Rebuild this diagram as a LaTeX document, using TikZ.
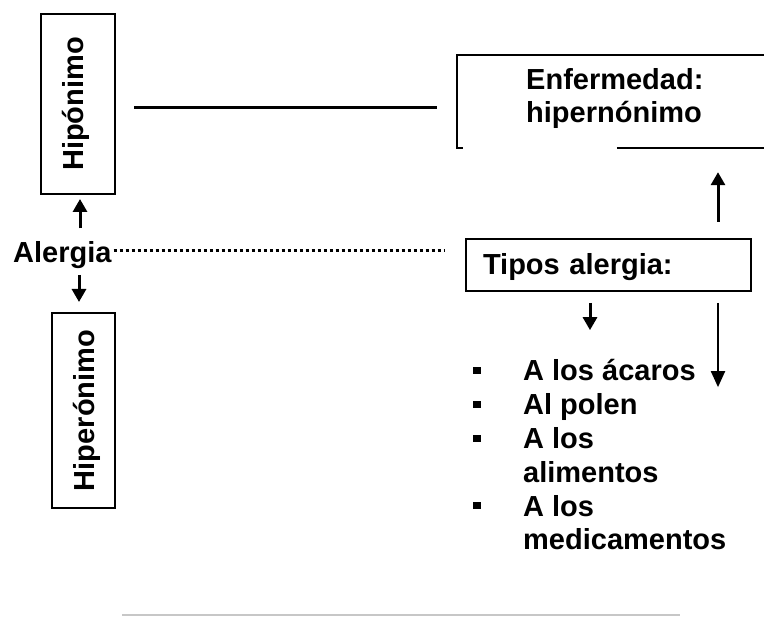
\documentclass[tikz,border=0pt]{standalone}
\usepackage{fontspec}
\setmainfont{Liberation Sans}
\usetikzlibrary{arrows.meta,calc}
\newcommand{\bala}{\rule[7pt]{8pt}{7pt}}

\begin{document}
\begin{tikzpicture}[x=1pt, y=-1pt,
 	font=\fontsize{29}{34}\selectfont\bfseries,
 	texto/.style={inner sep=0pt, text height=22.5pt, text depth=3.8pt},
 	caja/.style={draw, line width=2pt, inner sep=0pt, text height=22.5pt, text depth=3.8pt},
 	flecha/.style={line width=3pt, -{Triangle[width=14pt,length=13pt]}},
 	flechalarga/.style={line width=2pt, -{Triangle[width=14pt,length=16pt]}},
 	puntos/.style={line width=3pt, dash pattern=on 3pt off 3pt}]
 	\useasboundingbox (0,0) rectangle (764,617);
 	\clip (0,0) rectangle (764,617);
 	\node[caja, rotate=90, minimum width=180pt, minimum height=74pt] (Hipo) at (78,104) {\raisebox{4pt}{Hipónimo}};
 	\node[caja, rotate=90, minimum width=195pt, minimum height=63pt] (Hiper) at (83.5,410.5) {\raisebox{-2pt}{Hiperónimo}};
 	\node[texto, anchor=base west] (Aler) at (13,263) {Alergia};
 	\node[minimum width=330pt, minimum height=93pt, inner sep=0pt] (Enf) at (622,101.5) {};
 	\node[anchor=base west, inner sep=0pt, font=\fontsize{29}{33}\selectfont\bfseries] (EnfTxt) at (526,90) {\begin{tabular}[t]{@{}l@{}}Enfermedad:\\hipernónimo\end{tabular}};
 	\node[caja, anchor=west, minimum width=285pt, minimum height=52pt, text width=251pt, inner xsep=17pt, align=left] (Tipos) at (465,265) {Tipos alergia:};
 	\node[anchor=base west, inner sep=0pt, font=\fontsize{29}{33.8}\selectfont\bfseries] (Lista) at (473,381) {\begin{tabular}[t]{@{}l@{\hspace{42pt}}l@{}}
 		\bala & A los ácaros\\
 		\bala & Al polen\\
 		\bala & A los\\
 		      & alimentos\\
 		\bala & A los\\
 		      & medicamentos
 	\end{tabular}};
 	\draw[line width=2pt] ($(Enf.south west)+(6,0)$) -- (Enf.south west) -- (Enf.north west) -- (Enf.north east);
 	\draw[line width=2pt] ($(Enf.south west)+(160,0)$) -- (Enf.south east);
 	\draw[line width=3pt] ($(Hipo.south)+(18,4)$) -- ($(Hipo.south -| Enf.west)+(-20,4)$);
 	\draw[flecha] ($(Hipo.west |- Aler.north)+(2,-12)$) -- ($(Hipo.west)+(2,4)$);
 	\draw[flecha] ($(Hiper.east |- Aler.south)+(-4.5,8)$) -- ($(Hiper.east)+(-4.5,-10)$);
 	\draw[puntos] ($(Aler.east)+(2,-3.6)$) -- ($(Aler.east -| Tipos.west)+(-20,-3.6)$);
 	\draw[flecha] ($(Tipos.north east)+(-34,-16)$) -- ($(Tipos.north east |- Enf.south)+(-34,24)$);
 	\draw[flecha] ($(Tipos.south)+(-18.5,11)$) -- ($(Tipos.south |- Lista.north)+(-18.5,-27)$);
 	\draw[flechalarga] ($(Tipos.south)+(109.5,11)$) -- ($(Tipos.south |- Lista.north)+(109.5,30)$);
 	\draw[line width=2pt, black!22] (122,615) -- (680,615);
\end{tikzpicture}
\end{document}
